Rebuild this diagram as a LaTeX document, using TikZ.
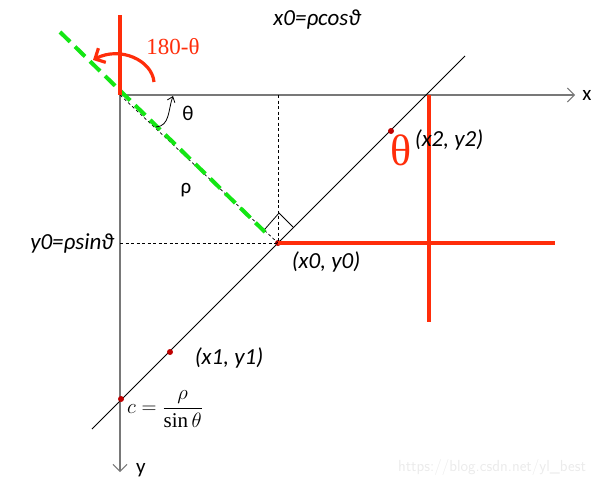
\documentclass[tikz,border=0pt]{standalone}
\usepackage{amsmath}
\usepackage{fontspec}
\setmainfont{Carlito}
\newfontfamily\serifont{Liberation Serif}
\usepackage{tikz}
\usetikzlibrary{arrows.meta,positioning,calc}
\definecolor{axisgray}{RGB}{120,120,120}
\definecolor{hotred}{RGB}{255,45,10}
\definecolor{dashgreen}{RGB}{20,230,20}
\definecolor{dotred}{RGB}{190,0,0}
\tikzset{
    axis/.style={axisgray, line width=2pt, -{Straight Barb[length=7pt,width=14pt,line width=1pt]}},
    redline/.style={hotred, line width=3.5pt},
    guide/.style={black, line width=0.7pt, dashed, dash pattern=on 3pt off 2.5pt},
    lbl/.style={font=\fontsize{23}{26}\selectfont\itshape, text=black, inner sep=0pt},
    plain/.style={font=\fontsize{21}{24}\selectfont, inner sep=0pt},
    dot/.style={circle, fill=dotred, inner sep=0pt, minimum size=6pt}
}
\begin{document}
\begin{tikzpicture}[x=1pt, y=-1pt]
    \useasboundingbox (0,0) rectangle (602,488);
    % points
    \coordinate (O) at (120,95);
    \coordinate (xend) at (575,95);
    \coordinate (yend) at (120,472);
    \coordinate (X0) at (278,95);
    \coordinate (Y0) at (120,243);
    \coordinate (lineA) at (92,429);
    \coordinate (lineB) at (465,56);
    % axes
    \draw[axis] (O) -- (xend);
    \draw[axis] (O) -- (yend);
    \node[plain] (xlbl) at (587,95) {x};
    \node[plain] (ylbl) at (141,470) {y};
    % the line and the foot point
    \draw[black, line width=0.8pt] (lineA) -- (lineB);
    \node[dot] (P) at (278,243) {};
    \draw[guide] (X0) -- (P.center);
    \draw[guide] (Y0) -- (P.center);
    \draw[guide] (O) -- (P.center);
    \draw[dashgreen, line width=4pt, dash pattern=on 14pt off 7pt] (60,32) -- (265,232);
    % right angle mark
    \draw[black, line width=0.8pt] (265,229) -- (279,213) -- (293,227);
    % red lines
    \draw[redline] (120,15) -- (O);
    \draw[redline] (P.center) -- (555,243);
    \draw[redline] (429,95) -- (429,322);
    \draw[hotred, line width=3.2pt, -{Straight Barb[length=8pt,width=16pt]}]
        (154,82) .. controls (152,60) and (120,46) .. (93,60);
    \node[font=\fontsize{23}{26}\selectfont\serifont, text=hotred, inner sep=0pt] (ang180) at (173,47) {180-θ};
    % angle arrow
    \draw[black, line width=0.8pt, -{Straight Barb[length=5pt,width=8pt]}]
        (156,127) .. controls (170,126) and (168,110) .. (173,96);
    \node[plain] (theta) at (188,113) {θ};
    \node[plain] (rho) at (186,190) {ρ};
    % labels
    \node[lbl] (xzero) at (317,20) {x0=ρcosϑ};
    \node[lbl] (yzero) at (72,243) {y0=ρsinϑ};
    \node[lbl] (Plbl) at (326,262) {(x0, y0)};
    \node[dot] (P1) at (170,352) {};
    \node[lbl] (P1lbl) at (229,358) {(x1, y1)};
    \node[dot] (P2) at (391,131) {};
    \node[lbl] (P2lbl) at (449,140) {(x2, y2)};
    \node[font=\fontsize{44}{46}\selectfont\serifont, text=hotred, inner sep=0pt] (bigtheta) at (401,150) {θ};
    \node[dot] (C) at (121,399) {};
    \node[font=\fontsize{21}{24}\selectfont, inner sep=0pt, anchor=west] (clbl) at (127,409)
        {$c=\dfrac{\rho}{\text{\serifont sin}\,\theta}$};
    \node[font=\fontsize{16}{19}\selectfont\sffamily, text=black!8, inner sep=0pt] (mark) at (492,467) {https://blog.csdn.net/yl\_best};
\end{tikzpicture}
\end{document}
